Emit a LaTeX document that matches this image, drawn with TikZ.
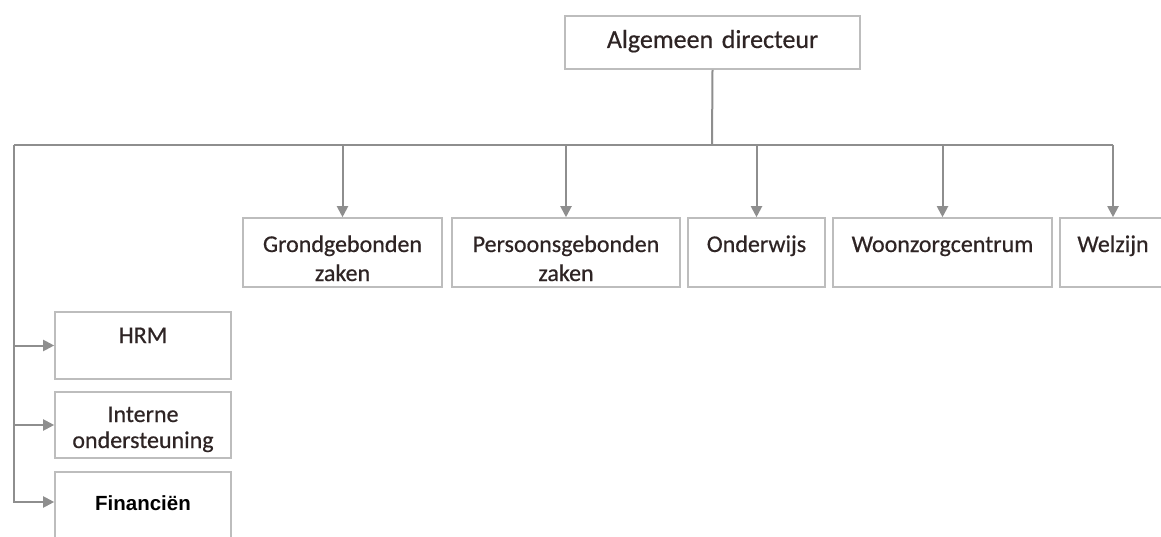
\documentclass[tikz,border=0pt]{standalone}
\usepackage{fontspec}
\setmainfont{Carlito}[FakeBold=0.5]
\newfontfamily\finfont{Liberation Sans}
\usetikzlibrary{arrows.meta}
\definecolor{txtc}{HTML}{2E2424}
\definecolor{linec}{HTML}{8E8E8E}
\definecolor{boxc}{HTML}{BDBDBD}
\newcommand\orgtxt[4]{\parbox[c][#2][t]{#1}{\centering\rule{0pt}{#3}#4\par}}
\tikzset{
  orgbox/.style={draw=boxc, line width=1.6pt, inner sep=0pt, fill=white, text=txtc,
                 font=\fontsize{24}{29}\selectfont},
  conn/.style={draw=linec, line width=2pt},
  arr/.style={conn, -{Triangle[width=11pt,length=11pt]}, color=linec}
}
\begin{document}
\begin{tikzpicture}[x=1pt,y=-1pt]
\clip (0,0) rectangle (1161,537);
\fill[white] (0,0) rectangle (1161,537);

\node[orgbox, font=\fontsize{26}{31}\selectfont] (top) at (712.5,42.5)
  {\orgtxt{295pt}{53pt}{32pt}{Algemeen\hspace{0.33em}directeur}};

\node[orgbox] (grond) at (342.5,252.5) {\orgtxt{199pt}{69pt}{34pt}{Grondgebonden\\zaken}};
\node[orgbox] (pers)  at (566,252.5)   {\orgtxt{228pt}{69pt}{34pt}{Persoonsgebonden\\zaken}};
\node[orgbox] (onder) at (756.5,252.5) {\orgtxt{137pt}{69pt}{34pt}{Onderwijs}};
\node[orgbox] (woon)  at (942.5,252.5) {\orgtxt{219pt}{69pt}{34pt}{Woonzorgcentrum}};
\node[orgbox] (welz)  at (1113,252.5)  {\orgtxt{106pt}{69pt}{34pt}{Welzijn}};

\node[orgbox] (hrm) at (143,345.5) {\orgtxt{176pt}{67pt}{31pt}{HRM}};
\node[orgbox, font=\fontsize{24}{26}\selectfont] (int) at (143,425)
  {\orgtxt{176pt}{66pt}{30pt}{Interne\\ondersteuning}};
\node[orgbox, text=black, font=\finfont\bfseries\fontsize{20.5}{24}\selectfont] (fin) at (143,505)
  {\orgtxt{176pt}{66pt}{38pt}{Financiën}};

\coordinate (j) at (712,145);
\coordinate (l) at (14,145);

\draw[conn] (top.south) -- (j);
\draw[conn] (l) -- (welz.north |- l);
\draw[arr] (grond.north |- l) -- (grond.north);
\draw[arr] (pers.north |- l) -- (pers.north);
\draw[arr] (onder.north |- l) -- (onder.north);
\draw[arr] (woon.north |- l) -- (woon.north);
\draw[arr] (welz.north |- l) -- (welz.north);

\draw[arr] (l) |- ([yshift=3pt]fin.west);
\draw[arr] (l |- hrm.west) -- (hrm.west);
\draw[arr] (l |- int.west) -- (int.west);
\end{tikzpicture}
\end{document}
